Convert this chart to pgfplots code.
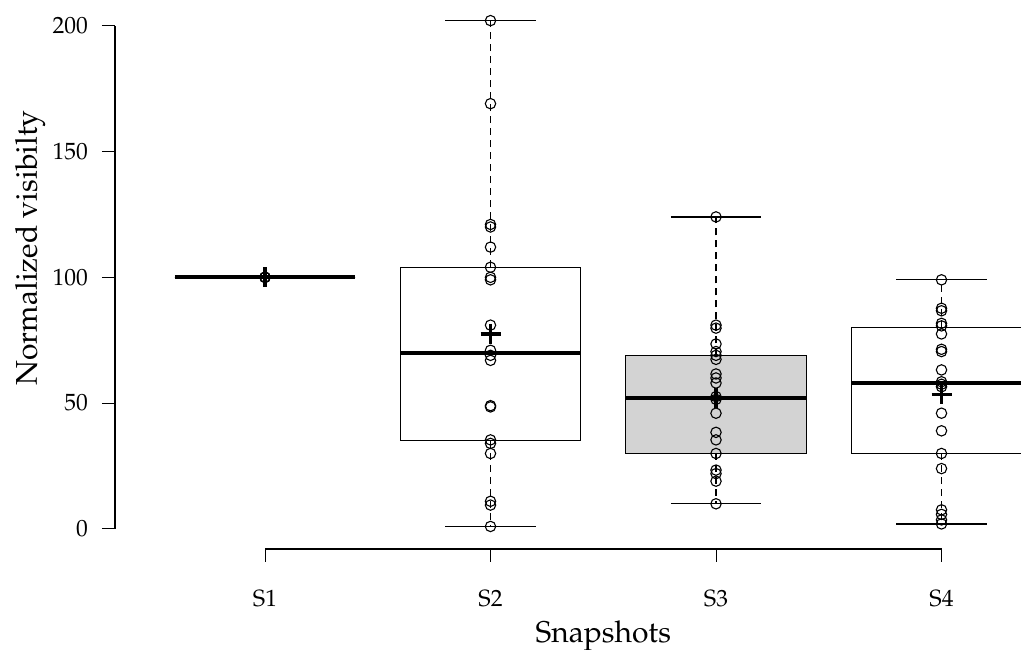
\documentclass[border=0pt]{standalone}
\usepackage[T1]{fontenc}
\usepackage{mathpazo}
\usepackage{pgfplots}
\pgfplotsset{compat=1.18}

% one R-style box: position, lower whisker, Q1, median, Q3, upper whisker, fill
\newcommand{\rbox}[7]{%
  \addplot[black, line width=0.6pt, dash pattern=on 3.5pt off 2.5pt]
    coordinates {(#1,#3) (#1,#2)};
  \addplot[black, line width=0.6pt, dash pattern=on 3.5pt off 2.5pt]
    coordinates {(#1,#5) (#1,#6)};
  \addplot[black, line width=0.6pt] coordinates {(#1-0.2,#2) (#1+0.2,#2)};
  \addplot[black, line width=0.6pt] coordinates {(#1-0.2,#6) (#1+0.2,#6)};
  \addplot[draw=black, fill=#7, line width=0.6pt]
    coordinates {(#1-0.4,#3) (#1+0.4,#3) (#1+0.4,#5) (#1-0.4,#5)} -- cycle;
  \addplot[black, line width=2pt] coordinates {(#1-0.4,#4) (#1+0.4,#4)};
}

\definecolor{rgray}{RGB}{211,211,211}

\begin{document}
\begin{tikzpicture}
\begin{axis}[
  scale only axis,
  width=453pt, height=274.5pt,
  xmin=0.3348, xmax=4.3525,
  ymin=-7.95, ymax=210.2,
  clip=false,
  axis line style={draw=none},
  xtick={1,2,3,4},
  xticklabels={S1,S2,S3,S4},
  ytick={0,50,100,150,200},
  xtick pos=left, ytick pos=left,
  tick align=outside,
  major tick length=6.5pt,
  tick style={black, line width=0.5pt},
  ticklabel style={font=\fontsize{11.75}{14}\selectfont},
  yticklabel style={xshift=-3.5pt},
  xticklabel style={anchor=base, yshift=-22.5pt},
  every axis y label/.style={at={(rel axis cs:-0.0861,0.5485)}, rotate=90, anchor=base,
    font=\fontsize{15}{18}\selectfont},
  every axis x label/.style={at={(rel axis cs:0.539,-0.170)}, anchor=base,
    font=\fontsize{15}{18}\selectfont},
  ylabel={Normalized visibilty},
  xlabel={Snapshots},
]
% axis lines, R style
\draw[line width=0.6pt] (axis cs:1,-7.95) -- (axis cs:4,-7.95);
\draw[line width=0.6pt] (axis cs:0.3348,0) -- (axis cs:0.3348,200);

% boxes
\rbox{1}{100}{100}{100}{100}{100}{white}
\rbox{2}{1}{35}{70}{104}{202}{white}
\rbox{3}{10}{30}{52}{69}{124}{rgray}
\rbox{4}{2}{30}{58}{80}{99}{white}

% individual observations
\addplot[black, only marks, mark=o, mark size=2.6pt, mark options={line width=0.55pt}]
coordinates {
(1,100) (1,100) (1,100) (1,100)
(2,202) (2,169) (2,121) (2,120) (2,112) (2,104) (2,100) (2,99) (2,81) (2,71)
(2,69) (2,67) (2,49) (2,48.5) (2,35.4) (2,34) (2,30) (2,11) (2,9.5) (2,1)
(3,124) (3,81) (3,79.8) (3,73.5) (3,70.5) (3,69) (3,67.4) (3,61.6) (3,60) (3,58)
(3,52.6) (3,51.5) (3,46) (3,38.4) (3,35.4) (3,30) (3,23.4) (3,22) (3,19) (3,10)
(4,99) (4,87.7) (4,86.7) (4,81.7) (4,80.7) (4,77.5) (4,71.4) (4,70.5) (4,63.2) (4,58.5)
(4,57.5) (4,56.5) (4,46) (4,39) (4,30) (4,24) (4,7.6) (4,5.8) (4,3.6) (4,2)
};

% means
\addplot[black, only marks, mark=+, mark size=5pt, mark options={line width=1.6pt}]
coordinates {(1,100) (2,77.5) (3,52) (4,53.5)};
\end{axis}
\pgfresetboundingbox
\path (current axis.south west) ++(-57.5pt,-50.5pt) rectangle (current axis.north east);
\end{tikzpicture}
\end{document}
